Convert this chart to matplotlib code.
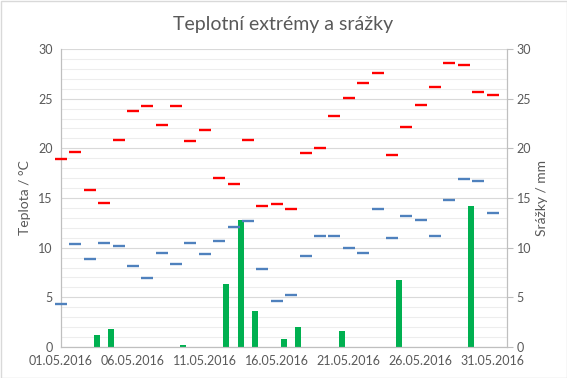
import numpy as np
import matplotlib
matplotlib.use('Agg')
import matplotlib.pyplot as plt
from matplotlib.ticker import MultipleLocator

# Daily data for May 2016
days = list(range(1, 32))
t_max = [18.9, 19.6, 15.8, 14.5, 20.8, 23.8, 24.3, 22.3, 24.3, 20.7,
         21.8, 17.0, 16.4, 20.8, 14.2, 14.4, 13.9, 19.5, 20.0, 23.3,
         25.1, 26.6, 27.6, 19.3, 22.1, 24.4, 26.2, 28.6, 28.4, 25.7, 25.4]
t_min = [4.3, 10.4, 8.9, 10.5, 10.2, 8.2, 6.9, 9.5, 8.4, 10.5,
         9.4, 10.7, 12.1, 12.7, 7.9, 4.6, 5.2, 9.2, 11.2, 11.2,
         10.0, 9.5, 13.9, 11.0, 13.2, 12.8, 11.2, 14.8, 16.9, 16.7, 13.5]
rain = [0, 0, 1.2, 1.8, 0, 0, 0, 0, 0.2, 0,
        0, 6.3, 12.8, 3.6, 0, 0.8, 2.0, 0, 0, 1.6,
        0, 0, 0, 6.7, 0, 0, 0, 0, 14.2, 0, 0]
tick_days = [1, 6, 11, 16, 21, 26, 31]
tick_labels = ['01.05.2016', '06.05.2016', '11.05.2016', '16.05.2016',
               '21.05.2016', '26.05.2016', '31.05.2016']

text_col = '#595959'
plt.rcParams['font.family'] = ['Lato', 'DejaVu Sans']

fig = plt.figure(figsize=(5.67, 3.78), dpi=100)
ax = fig.add_axes([61 / 567, 31 / 378, 446 / 567, 298 / 378])
ax2 = ax.twinx()

# precipitation bars (secondary axis), centred between day ticks
ax2.bar(np.array(days) + 0.5, rain, width=0.42, color='#00B050', zorder=2)
ax2.set_ylim(0, 30)

# temperature extremes as dash markers
ax.plot(days, t_max, linestyle='none', marker='_', markersize=9,
        markeredgewidth=1.7, color='#FF0000', zorder=5, clip_on=False)
ax.plot(days, t_min, linestyle='none', marker='_', markersize=9,
        markeredgewidth=1.7, color='#4F81BD', zorder=5, clip_on=False)
ax.set_zorder(ax2.get_zorder() + 1)
ax.patch.set_visible(False)

ax.set_xlim(1, 32)
ax.set_ylim(0, 30)
ax.set_xticks(tick_days)
ax.set_xticklabels(tick_labels)
ax.xaxis.set_minor_locator(MultipleLocator(1))
ax.yaxis.set_major_locator(MultipleLocator(5))
ax.yaxis.set_minor_locator(MultipleLocator(1))
ax2.yaxis.set_major_locator(MultipleLocator(5))

# grid on the background axes
ax2.set_xlim(1, 32)
ax2.xaxis.set_minor_locator(MultipleLocator(1))
ax2.set_xticks(tick_days)
ax2.yaxis.set_minor_locator(MultipleLocator(1))
ax2.grid(which='major', color='#D9D9D9', linewidth=0.8, zorder=0)
ax2.grid(which='minor', color='#EDEDED', linewidth=0.8, zorder=0)
ax2.set_axisbelow(True)

for a in (ax, ax2):
    a.spines['top'].set_visible(False)
    for s in ('left', 'right', 'bottom'):
        a.spines[s].set_color('#BFBFBF')
    a.tick_params(which='both', colors=text_col, labelsize=9, length=0)
ax2.tick_params(axis='y', which='major', length=4, color='#BFBFBF', pad=3)
ax.tick_params(axis='y', pad=6)
ax.tick_params(axis='x', pad=6)

ax.set_ylabel('Teplota / °C', color=text_col, fontsize=10)
ax2.set_ylabel('Srážky / mm', color=text_col, fontsize=10)
ax.yaxis.set_label_coords(-0.067, 0.5)
ax2.yaxis.set_label_coords(1.065, 0.5)

fig.text(0.5, 0.935, 'Teplotní extrémy a srážky', ha='center', va='center',
         fontsize=14, color=text_col)

border = plt.Rectangle((0.5 / 567, 0.5 / 378), 566 / 567, 377 / 378,
                       transform=fig.transFigure, fill=False,
                       edgecolor='#D9D9D9', linewidth=1)
fig.patches.append(border)

fig.savefig('out.png', dpi=100)
